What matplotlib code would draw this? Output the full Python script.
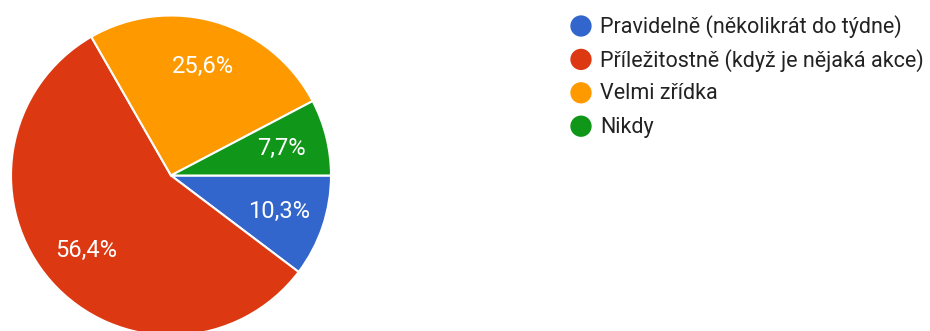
import matplotlib
matplotlib.use("Agg")
import matplotlib.pyplot as plt

labels = ["Pravidelně (několikrát do týdne)",
          "Příležitostně (když je nějaká akce)",
          "Velmi zřídka",
          "Nikdy"]
values = [10.3, 56.4, 25.6, 7.7]
pct_labels = ["10,3%", "56,4%", "25,6%", "7,7%"]
colors = ["#3366cc", "#dc3912", "#ff9900", "#109618"]

W, H = 930, 331
fig = plt.figure(figsize=(W / 100, H / 100), dpi=100)
plt.rcParams['font.family'] = ['Roboto', 'DejaVu Sans']

# pie axes: center (171,175.5) px, radius 160 px
cx, cy, r = 171, 175.5, 160
ax = fig.add_axes([(cx - r) / W, (H - (cy + r)) / H, 2 * r / W, 2 * r / H])
wedges, texts, autotexts = ax.pie(
    values, colors=colors, startangle=0, counterclock=False,
    autopct=lambda p: "", pctdistance=0.71,
    wedgeprops=dict(edgecolor="white", linewidth=1.5))
for at, lab in zip(autotexts, pct_labels):
    at.set_text(lab)
    at.set_color("white")
    at.set_fontsize(17)
ax.set_xlim(-1, 1)
ax.set_ylim(-1, 1)
ax.axis("off")

# legend overlay in pixel coords
lax = fig.add_axes([0, 0, 1, 1])
lax.set_xlim(0, W)
lax.set_ylim(H, 0)
lax.axis("off")
for i, (lab, col) in enumerate(zip(labels, colors)):
    y = 26 + 33.4 * i
    lax.scatter([581], [y], s=235, color=col, edgecolors="none")
    lax.text(600, y + 1, lab, fontsize=15.5, color="#222222", va="center", ha="left")

fig.savefig("out.png", dpi=100)
